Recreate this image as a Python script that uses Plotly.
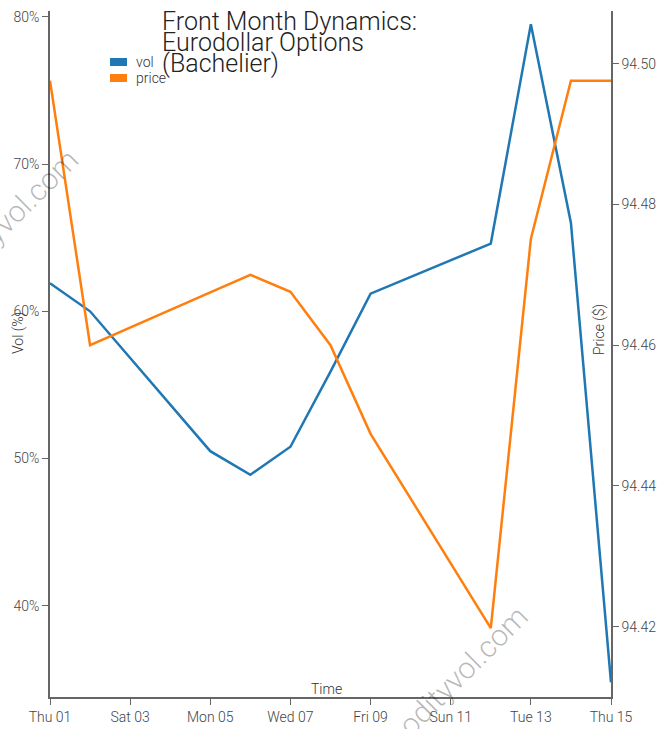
import plotly.graph_objects as go

dates = ["2018-03-01", "2018-03-02", "2018-03-05", "2018-03-06", "2018-03-07",
         "2018-03-08", "2018-03-09", "2018-03-12", "2018-03-13", "2018-03-14", "2018-03-15"]
vol = [61.9, 60.0, 50.5, 48.9, 50.8, 55.9, 61.2, 64.6, 79.5, 66.0, 34.8]
price = [94.4976, 94.460, 94.4675, 94.470, 94.4676, 94.460, 94.4474, 94.4198, 94.4751, 94.4976, 94.4976]
title_lines = ["Front Month Dynamics:", "Eurodollar Options", "(Bachelier)"]
x_ticks = ["2018-03-01", "2018-03-03", "2018-03-05", "2018-03-07", "2018-03-09",
           "2018-03-11", "2018-03-13", "2018-03-15"]
vol_ticks = [40, 50, 60, 70, 80]
vol_tick_text = ["40%", "50%", "60%", "70%", "80%"]
price_ticks = [94.42, 94.44, 94.46, 94.48, 94.50]

FONT = "Roboto"
W, H = 669, 729
# plot area in page pixels
X0, X1, Y0, Y1 = 50, 611, 11, 697
ML, MR, MT, MB = X0, W - X1, Y0, H - Y1
PW, PH = X1 - X0, Y1 - Y0

def px(x):
    return (x - X0) / PW

def py(y):
    return 1 - (y - Y0) / PH

fig = go.Figure()
fig.add_trace(go.Scatter(x=dates, y=vol, name="vol", mode="lines",
                         line=dict(color="#1f77b4", width=2.5), yaxis="y"))
fig.add_trace(go.Scatter(x=dates, y=price, name="price", mode="lines",
                         line=dict(color="#ff7f0e", width=2.5), yaxis="y2"))

axis_common = dict(showline=True, linecolor="#666", linewidth=1.5, ticks="outside",
                   ticklen=6, tickcolor="#666", showgrid=False, zeroline=False,
                   automargin=False,
                   tickfont=dict(family=FONT, size=14, color="#444", weight=300))

fig.update_layout(
    width=W, height=H,
    margin=dict(l=ML, r=MR, t=MT, b=MB),
    paper_bgcolor="white", plot_bgcolor="white",
    font=dict(family=FONT, weight=300, color="#333"),
    showlegend=False,
    xaxis=dict(range=["2018-03-01", "2018-03-15"], tickvals=x_ticks, tickformat="%a %d",
               **axis_common),
    yaxis=dict(range=[33.8, 80.4], tickvals=vol_ticks, ticktext=vol_tick_text,
               **axis_common),
    yaxis2=dict(range=[94.410, 94.5075], tickvals=price_ticks,
                tickformat=".2f", overlaying="y", side="right", **axis_common),
)

annotations = []
# title lines
for i, t in enumerate(title_lines):
    annotations.append(dict(text=t, xref="paper", yref="paper", x=px(160), y=py(5 + i * 21),
                            xanchor="left", yanchor="top", showarrow=False,
                            font=dict(family=FONT, size=25, color="#222", weight=300)))
# legend
for i, (name, color) in enumerate([("vol", "#1f77b4"), ("price", "#ff7f0e")]):
    yc = 62 + i * 16
    fig.add_shape(type="rect", xref="paper", yref="paper",
                  x0=px(110), x1=px(127), y0=py(yc - 4), y1=py(yc + 4),
                  fillcolor=color, line=dict(width=0))
    annotations.append(dict(text=name, xref="paper", yref="paper", x=px(134), y=py(yc),
                            xanchor="left", yanchor="middle", showarrow=False,
                            font=dict(family=FONT, size=14, color="#333", weight=300)))
# axis titles
annotations.append(dict(text="Vol (%)", xref="paper", yref="paper", x=px(18), y=py(333),
                        textangle=-90, xanchor="center", yanchor="middle", showarrow=False,
                        font=dict(family=FONT, size=14, color="#333", weight=300)))
annotations.append(dict(text="Price ($)", xref="paper", yref="paper", x=px(600), y=py(330),
                        textangle=-90, xanchor="center", yanchor="middle", showarrow=False,
                        font=dict(family=FONT, size=14, color="#333", weight=300)))
annotations.append(dict(text="Time", xref="paper", yref="paper", x=px(326), y=py(689),
                        xanchor="center", yanchor="middle", showarrow=False,
                        font=dict(family=FONT, size=14, color="#333", weight=300)))
# watermarks
for cx, cy in [(-17, 245), (432, 701)]:
    annotations.append(dict(text="commodityvol.com", xref="paper", yref="paper",
                            x=px(cx), y=py(cy), textangle=-45, xanchor="center",
                            yanchor="middle", showarrow=False,
                            font=dict(family=FONT, size=30, color="rgba(0,0,0,0.28)",
                                      weight=300)))
fig.update_layout(annotations=annotations)

fig.write_html("out.html", config={"displayModeBar": False},
               post_script="document.body.style.margin='0';")
